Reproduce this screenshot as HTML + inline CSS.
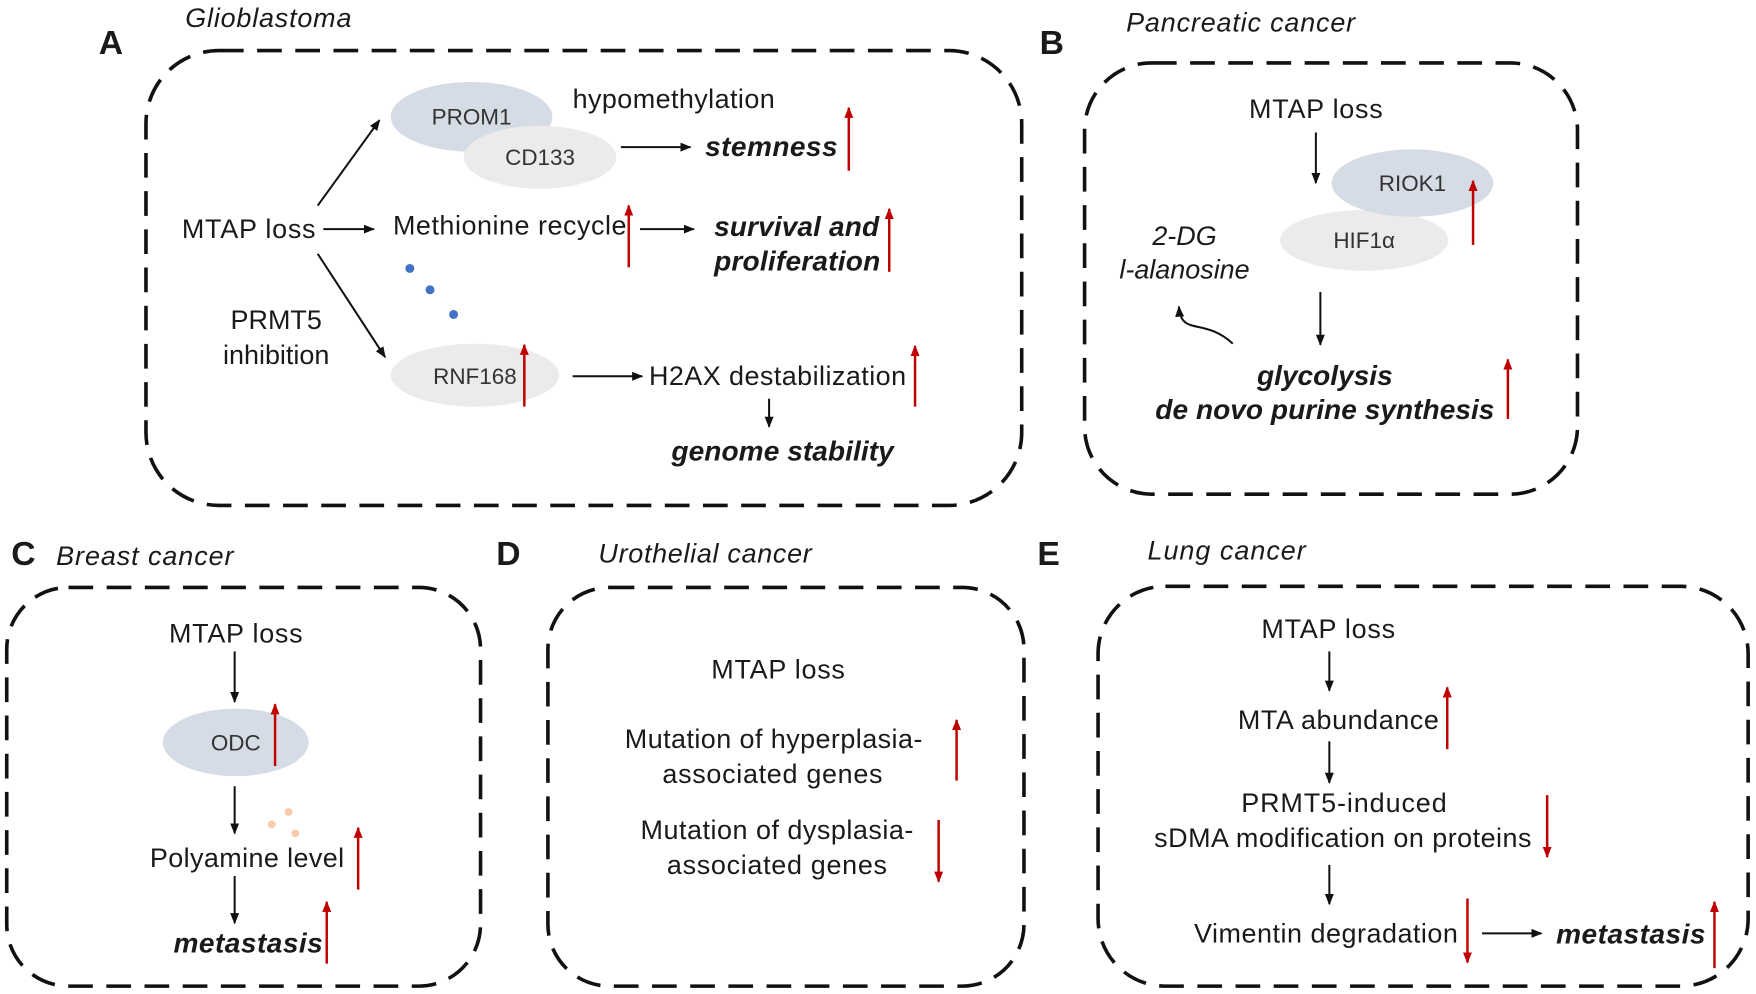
<!DOCTYPE html>
<html><head><meta charset="utf-8"><style>
html,body{margin:0;padding:0;background:#fff;}
svg{display:block;}
text{font-family:"Liberation Sans",Arial,sans-serif;fill:#1a1a1a;}
.n{font-size:24px;}
.s{font-size:20px;fill:#333;}
.b{font-size:25px;font-weight:bold;font-style:italic;}
.t{font-size:24px;font-style:italic;}
.L{font-size:30px;font-weight:bold;}
.box{fill:none;stroke:#111;stroke-width:3.2;stroke-dasharray:22 12;}
.a{stroke:#111;stroke-width:1.8;fill:none;marker-end:url(#ah);}
.r{stroke:#c00000;stroke-width:2.2;fill:none;marker-end:url(#rh);}
</style></head><body>
<svg width="1756" height="994" viewBox="0 0 1564 885" preserveAspectRatio="none" xmlns="http://www.w3.org/2000/svg">
<defs>
<marker id="ah" markerWidth="10" markerHeight="10" refX="9" refY="5" orient="auto" markerUnits="userSpaceOnUse"><path d="M0,1 L10,5 L0,9 z" fill="#111"/></marker>
<marker id="rh" markerWidth="10" markerHeight="12" refX="9" refY="5" orient="auto" markerUnits="userSpaceOnUse"><path d="M0,1 L10,5 L0,9 z" fill="#c00000"/></marker>
</defs>
<rect x="0" y="0" width="1564" height="885" fill="#fff"/>

<rect class="box" x="130" y="45" width="780" height="405" rx="65"/>
<rect class="box" x="966" y="56" width="439" height="384" rx="60"/>
<rect class="box" x="6" y="523" width="422" height="355" rx="55"/>
<rect class="box" x="488" y="523" width="424" height="355" rx="55"/>
<rect class="box" x="978" y="522" width="579" height="356" rx="60"/>

<text class="L" x="88" y="48">A</text><text class="t" x="165" y="24" textLength="148">Glioblastoma</text>
<text class="L" x="926" y="48">B</text><text class="t" x="1003" y="28" textLength="204">Pancreatic cancer</text>
<text class="L" x="10" y="503">C</text><text class="t" x="50" y="503" textLength="158">Breast cancer</text>
<text class="L" x="442" y="503">D</text><text class="t" x="533" y="501" textLength="190">Urothelial cancer</text>
<text class="L" x="924" y="503">E</text><text class="t" x="1022" y="498" textLength="141">Lung cancer</text>

<!-- A -->
<ellipse cx="420" cy="104" rx="72" ry="31" fill="#d6dce5"/>
<text class="s" x="420" y="111" text-anchor="middle">PROM1</text>
<ellipse cx="481" cy="140" rx="68" ry="28" fill="#ebebeb"/>
<text class="s" x="481" y="147" text-anchor="middle">CD133</text>
<text class="n" x="510" y="96" textLength="180">hypomethylation</text>
<line class="a" x1="553" y1="131" x2="615" y2="131"/>
<text class="b" x="628" y="139" textLength="118">stemness</text>
<line class="r" x1="756" y1="152" x2="756" y2="96"/>
<text class="n" x="162" y="212" textLength="119">MTAP loss</text>
<line class="a" x1="288" y1="204" x2="333" y2="204"/>
<text class="n" x="350" y="209" textLength="208">Methionine recycle</text>
<line class="r" x1="560" y1="238" x2="560" y2="183"/>
<line class="a" x1="570" y1="204" x2="618" y2="204"/>
<text class="b" x="636" y="210" textLength="147">survival and</text>
<text class="b" x="636" y="241" textLength="148">proliferation</text>
<line class="r" x1="792" y1="242" x2="792" y2="186"/>
<line class="a" x1="283" y1="183" x2="338" y2="107"/>
<line class="a" x1="283" y1="226" x2="343" y2="318"/>
<circle cx="365" cy="239" r="4" fill="#4472c4"/>
<circle cx="383" cy="258" r="4" fill="#4472c4"/>
<circle cx="404" cy="280" r="4" fill="#4472c4"/>
<text class="n" x="246" y="293" text-anchor="middle">PRMT5</text>
<text class="n" x="246" y="324" text-anchor="middle">inhibition</text>
<ellipse cx="423" cy="334" rx="75" ry="28" fill="#ebebeb"/>
<text class="s" x="423" y="342" text-anchor="middle">RNF168</text>
<line class="r" x1="467" y1="362" x2="467" y2="307"/>
<line class="a" x1="510" y1="335" x2="572" y2="335"/>
<text class="n" x="578" y="343" textLength="229">H2AX destabilization</text>
<line class="r" x1="815" y1="362" x2="815" y2="308"/>
<line class="a" x1="685" y1="355" x2="685" y2="380"/>
<text class="b" x="697" y="410" text-anchor="middle" textLength="198">genome stability</text>

<!-- B -->
<text class="n" x="1172" y="105" text-anchor="middle" textLength="119">MTAP loss</text>
<line class="a" x1="1172" y1="118" x2="1172" y2="163"/>
<ellipse cx="1215" cy="214" rx="75" ry="27" fill="#ebebeb"/>
<text class="s" x="1215" y="221" text-anchor="middle">HIF1α</text>
<ellipse cx="1258" cy="163" rx="72" ry="30" fill="#d6dce5"/>
<text class="s" x="1258" y="170" text-anchor="middle">RIOK1</text>
<line class="r" x1="1312" y1="218" x2="1312" y2="161"/>
<text class="t" x="1055" y="218" text-anchor="middle">2-DG</text>
<text class="t" x="1055" y="248" text-anchor="middle">l-alanosine</text>
<line class="a" x1="1176" y1="260" x2="1176" y2="307"/>
<text class="b" x="1180" y="343" text-anchor="middle">glycolysis</text>
<text class="b" x="1180" y="373" text-anchor="middle" textLength="302">de novo purine synthesis</text>
<line class="r" x1="1343" y1="373" x2="1343" y2="320"/>
<path class="a" d="M1098,306 C1072,282 1052,300 1050,273"/>

<!-- C -->
<text class="n" x="210" y="572" text-anchor="middle" textLength="119">MTAP loss</text>
<line class="a" x1="209" y1="580" x2="209" y2="625"/>
<ellipse cx="210" cy="661" rx="65" ry="30" fill="#d6dce5"/>
<text class="s" x="210" y="668" text-anchor="middle">ODC</text>
<line class="r" x1="245" y1="682" x2="245" y2="627"/>
<line class="a" x1="209" y1="700" x2="209" y2="742"/>
<circle cx="257" cy="723" r="3.5" fill="#f8cbad"/>
<circle cx="242" cy="734" r="3.5" fill="#f8cbad"/>
<circle cx="263" cy="742" r="3.5" fill="#f8cbad"/>
<text class="n" x="220" y="772" text-anchor="middle" textLength="173">Polyamine level</text>
<line class="r" x1="319" y1="792" x2="319" y2="737"/>
<line class="a" x1="209" y1="780" x2="209" y2="822"/>
<text class="b" x="221" y="848" text-anchor="middle" textLength="133">metastasis</text>
<line class="r" x1="291" y1="858" x2="291" y2="803"/>

<!-- D -->
<text class="n" x="693" y="604" text-anchor="middle" textLength="119">MTAP loss</text>
<text class="n" x="689" y="666" text-anchor="middle" textLength="265">Mutation of hyperplasia-</text>
<text class="n" x="688" y="697" text-anchor="middle" textLength="196">associated genes</text>
<line class="r" x1="852" y1="695" x2="852" y2="641"/>
<text class="n" x="692" y="747" text-anchor="middle" textLength="243">Mutation of dysplasia-</text>
<text class="n" x="692" y="778" text-anchor="middle" textLength="196">associated genes</text>
<line class="r" x1="836" y1="730" x2="836" y2="785"/>

<!-- E -->
<text class="n" x="1183" y="568" text-anchor="middle" textLength="119">MTAP loss</text>
<line class="a" x1="1184" y1="580" x2="1184" y2="615"/>
<text class="n" x="1192" y="649" text-anchor="middle" textLength="179">MTA abundance</text>
<line class="r" x1="1289" y1="667" x2="1289" y2="612"/>
<line class="a" x1="1184" y1="660" x2="1184" y2="697"/>
<text class="n" x="1197" y="723" text-anchor="middle" textLength="183">PRMT5-induced</text>
<text class="n" x="1196" y="754" text-anchor="middle" textLength="336">sDMA modification on proteins</text>
<line class="r" x1="1378" y1="708" x2="1378" y2="763"/>
<line class="a" x1="1184" y1="770" x2="1184" y2="805"/>
<text class="n" x="1181" y="839" text-anchor="middle" textLength="235">Vimentin degradation</text>
<line class="r" x1="1307" y1="800" x2="1307" y2="857"/>
<line class="a" x1="1320" y1="831" x2="1373" y2="831"/>
<text class="b" x="1386" y="840" textLength="133">metastasis</text>
<line class="r" x1="1527" y1="862" x2="1527" y2="803"/>
</svg>
</body></html>
